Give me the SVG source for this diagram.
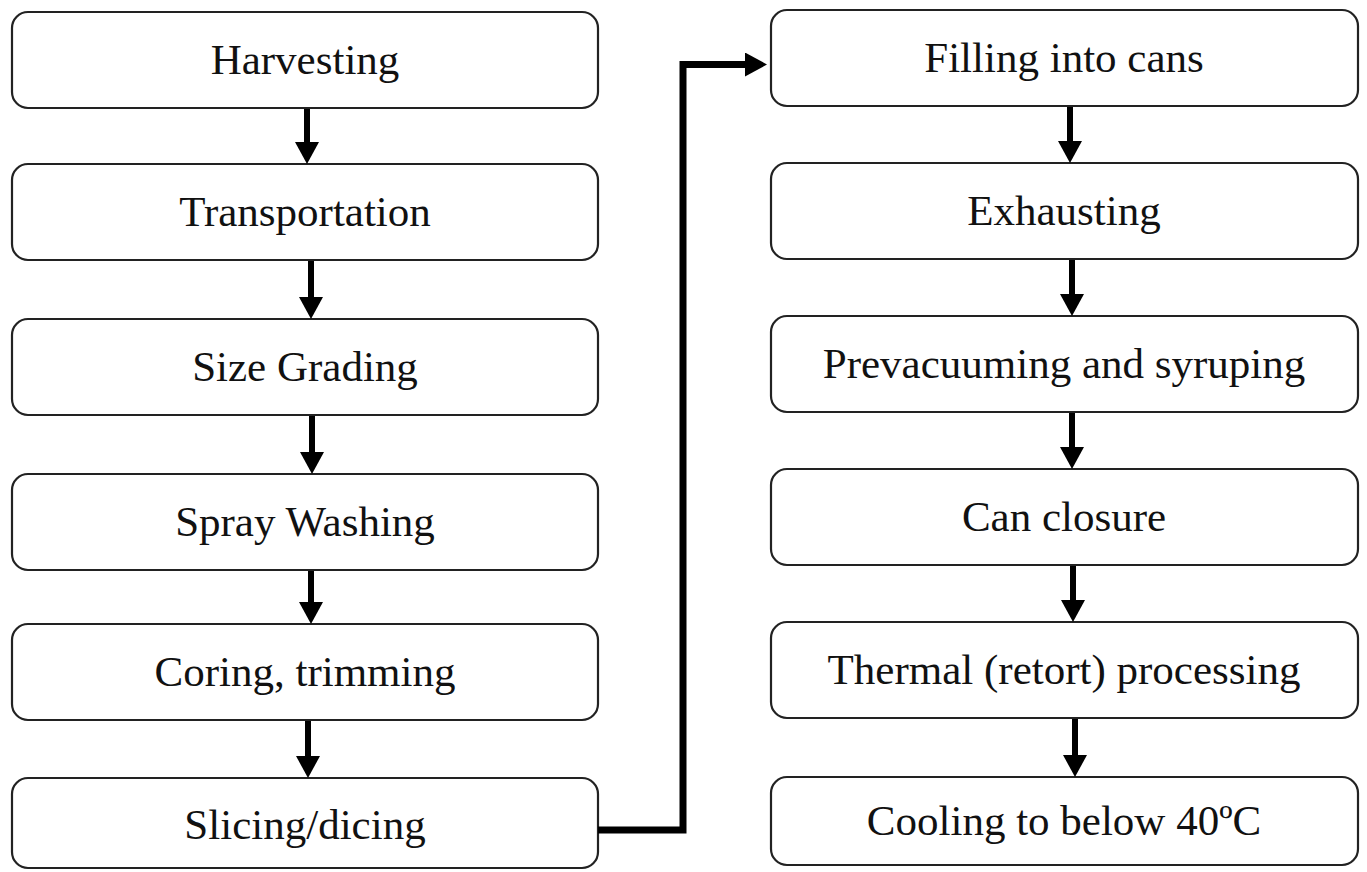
<svg xmlns="http://www.w3.org/2000/svg" width="1367" height="872" viewBox="0 0 1367 872">
<style>
.box{fill:#fff;stroke:#222;stroke-width:2.2}
.lbl{font-family:"Liberation Serif","Times New Roman",serif;font-size:43px;fill:#111;text-anchor:middle}
.arr{fill:none;stroke:#000;stroke-width:6}
.conn{fill:none;stroke:#000;stroke-width:7;stroke-linejoin:miter}
</style>
<defs>
<marker id="ah" viewBox="0 0 22 24" refX="12" refY="12" markerWidth="22" markerHeight="24" markerUnits="userSpaceOnUse" orient="auto">
<path d="M0,0 L22,12 L0,24 z" fill="#000"/>
</marker>
</defs>
<rect width="1367" height="872" fill="#fff"/>
<g id="n1"><rect class="box" x="12" y="12" width="586" height="96" rx="16"/><text class="lbl" x="305" y="74">Harvesting</text></g>
<g id="n2"><rect class="box" x="12" y="164" width="586" height="96" rx="16"/><text class="lbl" x="305" y="226">Transportation</text></g>
<g id="n3"><rect class="box" x="12" y="319" width="586" height="96" rx="16"/><text class="lbl" x="305" y="381">Size Grading</text></g>
<g id="n4"><rect class="box" x="12" y="474" width="586" height="96" rx="16"/><text class="lbl" x="305" y="536">Spray Washing</text></g>
<g id="n5"><rect class="box" x="12" y="624" width="586" height="96" rx="16"/><text class="lbl" x="305" y="686">Coring, trimming</text></g>
<g id="n6"><rect class="box" x="12" y="778" width="586" height="90" rx="16"/><text class="lbl" x="305" y="839">Slicing/dicing</text></g>
<g id="n7"><rect class="box" x="771" y="10" width="587" height="96" rx="16"/><text class="lbl" x="1064" y="72">Filling into cans</text></g>
<g id="n8"><rect class="box" x="771" y="163" width="587" height="96" rx="16"/><text class="lbl" x="1064" y="225">Exhausting</text></g>
<g id="n9"><rect class="box" x="771" y="316" width="587" height="96" rx="16"/><text class="lbl" x="1064" y="378">Prevacuuming and syruping</text></g>
<g id="n10"><rect class="box" x="771" y="469" width="587" height="96" rx="16"/><text class="lbl" x="1064" y="531">Can closure</text></g>
<g id="n11"><rect class="box" x="771" y="622" width="587" height="96" rx="16"/><text class="lbl" x="1064" y="684">Thermal (retort) processing</text></g>
<g id="n12"><rect class="box" x="771" y="777" width="587" height="88" rx="16"/><text class="lbl" x="1064" y="835">Cooling to below 40ºC</text></g>
<g id="connectors">
<line class="arr" x1="307" y1="109" x2="307" y2="154" marker-end="url(#ah)"/>
<line class="arr" x1="311" y1="261" x2="311" y2="309" marker-end="url(#ah)"/>
<line class="arr" x1="312" y1="416" x2="312" y2="464" marker-end="url(#ah)"/>
<line class="arr" x1="311" y1="571" x2="311" y2="614" marker-end="url(#ah)"/>
<line class="arr" x1="308" y1="721" x2="308" y2="768" marker-end="url(#ah)"/>
<line class="arr" x1="1070" y1="107" x2="1070" y2="153" marker-end="url(#ah)"/>
<line class="arr" x1="1072" y1="260" x2="1072" y2="306" marker-end="url(#ah)"/>
<line class="arr" x1="1072" y1="413" x2="1072" y2="459" marker-end="url(#ah)"/>
<line class="arr" x1="1073" y1="566" x2="1073" y2="612" marker-end="url(#ah)"/>
<line class="arr" x1="1075" y1="719" x2="1075" y2="767" marker-end="url(#ah)"/>
<polyline class="conn" points="598,830 683,830 683,64.5 757,64.5" marker-end="url(#ah)"/>
</g>
</svg>
